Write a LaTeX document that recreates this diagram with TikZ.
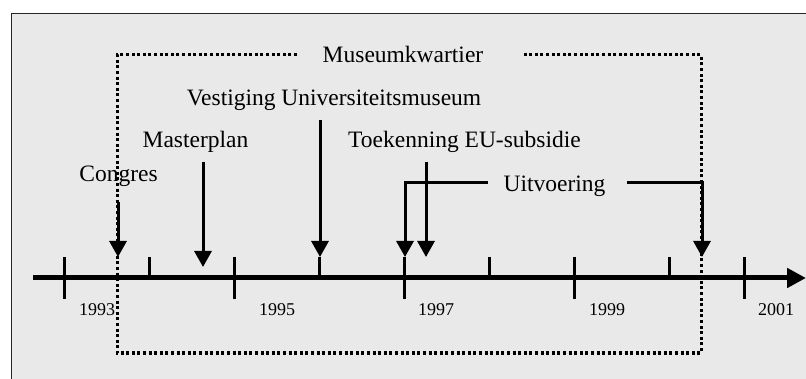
\documentclass[tikz,border=0pt]{standalone}
\usepackage{fontspec}
\setmainfont{Liberation Serif}
\usetikzlibrary{arrows.meta}

\definecolor{panel}{HTML}{E9E9E9}

\tikzset{
  label/.style={inner sep=0pt, anchor=base, font=\fontsize{23.5}{26}\selectfont},
  year/.style={inner sep=0pt, anchor=base, font=\fontsize{18}{20}\selectfont},
  pointer/.style={line width=3pt, -{Triangle[width=17pt,length=16pt]}},
  timeaxis/.style={line width=5pt, -{Triangle[width=19pt,length=19pt]}},
  tick/.style={line width=3pt},
  period/.style={line width=3pt, dash pattern=on 3pt off 2.6pt},
}

\begin{document}
\begin{tikzpicture}[x=1pt, y=-1pt]
  \useasboundingbox (0,0) rectangle (806,379);

  % panel with dark top and left border
  \fill[panel] (11,13) rectangle (810,385);
  \draw[line width=1.8pt, black!85] (11.5,385) -- (11.5,13.5) -- (810,13.5);

  % dotted period box with its title
  \node[label] (mk) at (403,63) {Museumkwartier};
  \draw[period] (297,55) -- (117,55) -- (117,353) -- (701,353) -- (701,55) -- (524,55);

  % time axis
  \coordinate (ax0) at (33,278);
  \coordinate (ax1) at (806,278);
  \draw[timeaxis] (ax0) -- (ax1);

  % major ticks
  \foreach \x in {64, 234, 404, 574, 744}{
    \draw[tick] (\x,257) -- (\x,299);
  }
  % minor ticks
  \foreach \x in {149, 319, 489, 669}{
    \draw[tick] (\x,257) -- (\x,278);
  }
  \node[year] (y93) at (97,316) {1993};
  \node[year] (y95) at (277,316) {1995};
  \node[year] (y97) at (436,316) {1997};
  \node[year] (y99) at (607,316) {1999};
  \node[year] (y01) at (776,316) {2001};

  % events
  \node[label] (congres) at (118.5,182) {Congres};
  \node[label] (master) at (195.5,148) {Masterplan};
  \node[label] (vestiging) at (334,106) {Vestiging Universiteitsmuseum};
  \node[label] (toek) at (464.5,148) {Toekenning EU-subsidie};
  \node[label] (uitv) at (554.5,192) {Uitvoering};

  \coordinate (congresA) at (118,202);  \coordinate (congresB) at (118,257);
  \coordinate (masterA) at (203,162);   \coordinate (masterB) at (203,267);
  \coordinate (vestA) at (320,120);     \coordinate (vestB) at (320,257);
  \coordinate (toekA) at (426,162);     \coordinate (toekB) at (426,257);

  \draw[pointer] (congresA) -- (congresB);
  \draw[pointer] (masterA) -- (masterB);
  \draw[pointer] (vestA) -- (vestB);
  \draw[pointer] (toekA) -- (toekB);

  % execution bracket
  \coordinate (uL) at (488,183); \coordinate (uLc) at (405,183); \coordinate (uLt) at (405,257);
  \coordinate (uR) at (627,183); \coordinate (uRc) at (702,183); \coordinate (uRt) at (702,257);
  \draw[pointer] (uL) -- (uLc) -- (uLt);
  \draw[pointer] (uR) -- (uRc) -- (uRt);
\end{tikzpicture}
\end{document}
